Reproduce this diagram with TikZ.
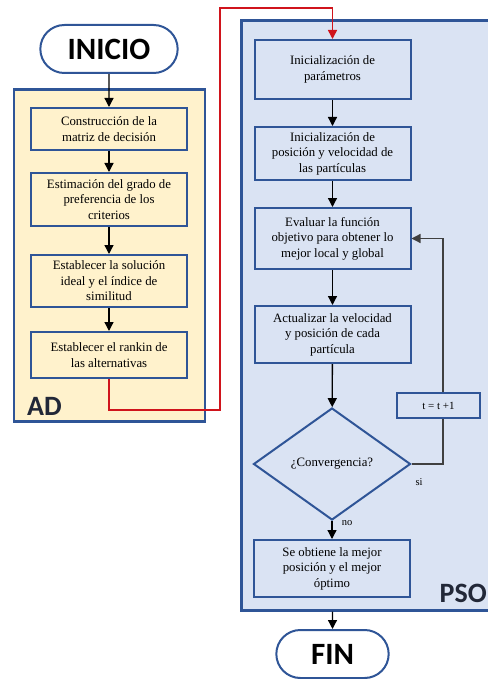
\documentclass[tikz,border=0pt]{standalone}
\usepackage{fontspec}
\setmainfont{Liberation Serif}
\newfontfamily\calibfont{Carlito}
\usetikzlibrary{shapes.geometric,shapes.misc,positioning,arrows.meta}
\definecolor{blueline}{HTML}{2F5597}
\definecolor{adfill}{HTML}{FFF2CC}
\definecolor{psofill}{HTML}{DAE3F3}
\definecolor{redline}{HTML}{D0141C}
\definecolor{labelgray}{HTML}{222838}
\definecolor{loopgray}{HTML}{404040}

\begin{document}
\begin{tikzpicture}[x=1pt,y=-1pt,
  box/.style={draw=blueline, line width=2pt, minimum width=156pt, align=center, inner sep=2pt, font=\fontsize{12.8}{15.5}\selectfont},
  adbox/.style={box, fill=adfill},
  psobox/.style={box, fill=psofill},
  terminal/.style={rounded rectangle, draw=blueline, fill=white, line width=2pt, minimum height=48pt, font=\calibfont\bfseries\fontsize{31}{31}\selectfont},
  group/.style={draw=blueline, line width=2.2pt, inner sep=0pt},
  grouplabel/.style={text=labelgray, inner sep=0pt, font=\calibfont\bfseries\fontsize{28}{28}\selectfont},
  smalltext/.style={inner sep=0pt, font=\fontsize{10.5}{12}\selectfont},
  arr/.style={black, line width=1.3pt, -{Triangle[width=9pt,length=9pt]}},
  redarr/.style={redline, line width=1.6pt, -{Triangle[width=9pt,length=9pt]}},
  loopline/.style={loopgray, line width=1.3pt}]
\useasboundingbox (0,0) rectangle (487,679);
% Groups
\node[group, fill=adfill, minimum width=191pt, minimum height=332pt] (AD) at (109.5,255.5) {};
\node[group, fill=psofill, minimum width=256pt, minimum height=590pt] (PSO) at (369.5,315.5) {};
\node[grouplabel, anchor=base west] (ADlabel) at (27,415) {AD};
\node[grouplabel, anchor=base east] (PSOlabel) at (487,602) {PSO};
% Start / end
\node[terminal, minimum width=144pt] (inicio) at (109,49) {INICIO};
\node[terminal, minimum width=119pt] (fin) at (332.5,654) {FIN};
% AD steps
\node[adbox, minimum height=42pt] (A1) at (109,129) {Construcción de la\\matriz de decisión};
\node[adbox, minimum height=53pt] (A2) at (109,199.5) {Estimación del grado de\\preferencia de los\\criterios};
\node[adbox, minimum height=52pt] (A3) at (109,281) {Establecer la solución\\ideal y el índice de\\similitud};
\node[adbox, minimum height=46pt] (A4) at (109,355) {Establecer el rankin de\\las alternativas};
% PSO steps
\node[psobox, minimum height=59pt] (P1) at (332.5,69.5) {Inicialización de\\parámetros};
\node[psobox, minimum height=53pt] (P2) at (332.5,153.5) {Inicialización de\\posición y velocidad de\\las partículas};
\node[psobox, minimum height=61pt] (P3) at (332.5,238.5) {Evaluar la función\\objetivo para obtener lo\\mejor local y global};
\node[psobox, minimum height=57pt] (P4) at (332.5,334.5) {Actualizar la velocidad\\y posición de cada\\partícula};
\node[diamond, draw=blueline, fill=psofill, line width=2pt, aspect=1.4, minimum width=157pt, minimum height=112pt, inner sep=0pt, font=\fontsize{12.8}{15.5}\selectfont] (conv) at (332,464) {¿Convergencia?};
\node[psobox, minimum height=57pt] (P5) at (332,568.5) {Se obtiene la mejor\\posición y el mejor\\óptimo};
\node[psobox, minimum width=83pt, minimum height=25pt, font=\fontsize{11}{12}\selectfont] (tbox) at (438.5,405.5) {t = t +1};
% Labels
\node[smalltext] (si) at (419,482) {si};
\node[smalltext] (no) at (347,523) {no};
% Arrows AD
\draw[arr] (inicio) -- (A1);
\draw[arr] (A1) -- (A2);
\draw[arr] (A2) -- (A3);
\draw[arr] (A3) -- (A4);
% Link AD -> PSO
\coordinate (redA) at (220,410);
\coordinate (redB) at (220,8);
\draw[redarr] (A4.south) |- (redA) -- (redB) -| (P1.north);
% Arrows PSO
\draw[arr] (P1) -- (P2);
\draw[arr] (P2) -- (P3);
\draw[arr] (P3) -- (P4);
\draw[arr] (P4) -- (conv);
\draw[arr] (conv) -- (conv.south |- P5.north);
\draw[loopline] (conv.east) -| ([xshift=4.5pt]tbox.south);
\draw[loopline, -{Triangle[width=9pt,length=9pt]}] ([xshift=4.5pt]tbox.north) |- (P3.east);
\draw[arr] (fin.north |- PSO.south) -- (fin);
\end{tikzpicture}
\end{document}
